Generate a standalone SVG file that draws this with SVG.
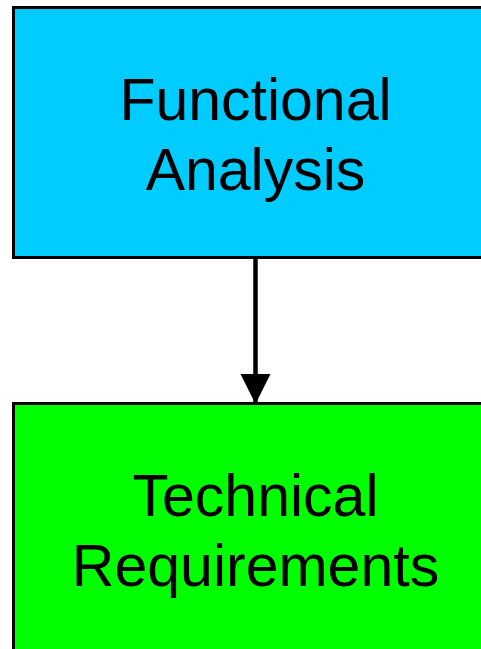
<svg xmlns="http://www.w3.org/2000/svg" width="481" height="649" viewBox="0 0 481 649">
  <style>
    .box { stroke: #000; stroke-width: 3; }
    .label { font-family: "Liberation Sans", Arial, sans-serif; font-size: 59px; fill: #000; text-anchor: middle; }
    .edge { stroke: #000; stroke-width: 4.5; fill: none; }
  </style>
  <defs>
    <marker id="arrow" markerUnits="userSpaceOnUse" markerWidth="30" markerHeight="32" refX="29" refY="15" orient="auto">
      <path d="M0,0 L30,15 L0,30 Z" fill="#000"/>
    </marker>
  </defs>
  <rect width="481" height="649" fill="#fff"/>
  <g id="connectors">
    <line class="edge" x1="255.5" y1="258" x2="255.5" y2="403" marker-end="url(#arrow)"/>
  </g>
  <g id="functional-analysis">
    <rect class="box" x="13.5" y="7.5" width="485" height="250" fill="#00CCFF"/>
    <text class="label" x="255.5" y="120">Functional</text>
    <text class="label" x="255.5" y="190">Analysis</text>
  </g>
  <g id="technical-requirements">
    <rect class="box" x="13.5" y="403.5" width="485" height="260" fill="#00FF00"/>
    <text class="label" x="255.5" y="516">Technical</text>
    <text class="label" x="255.5" y="586">Requirements</text>
  </g>
</svg>
